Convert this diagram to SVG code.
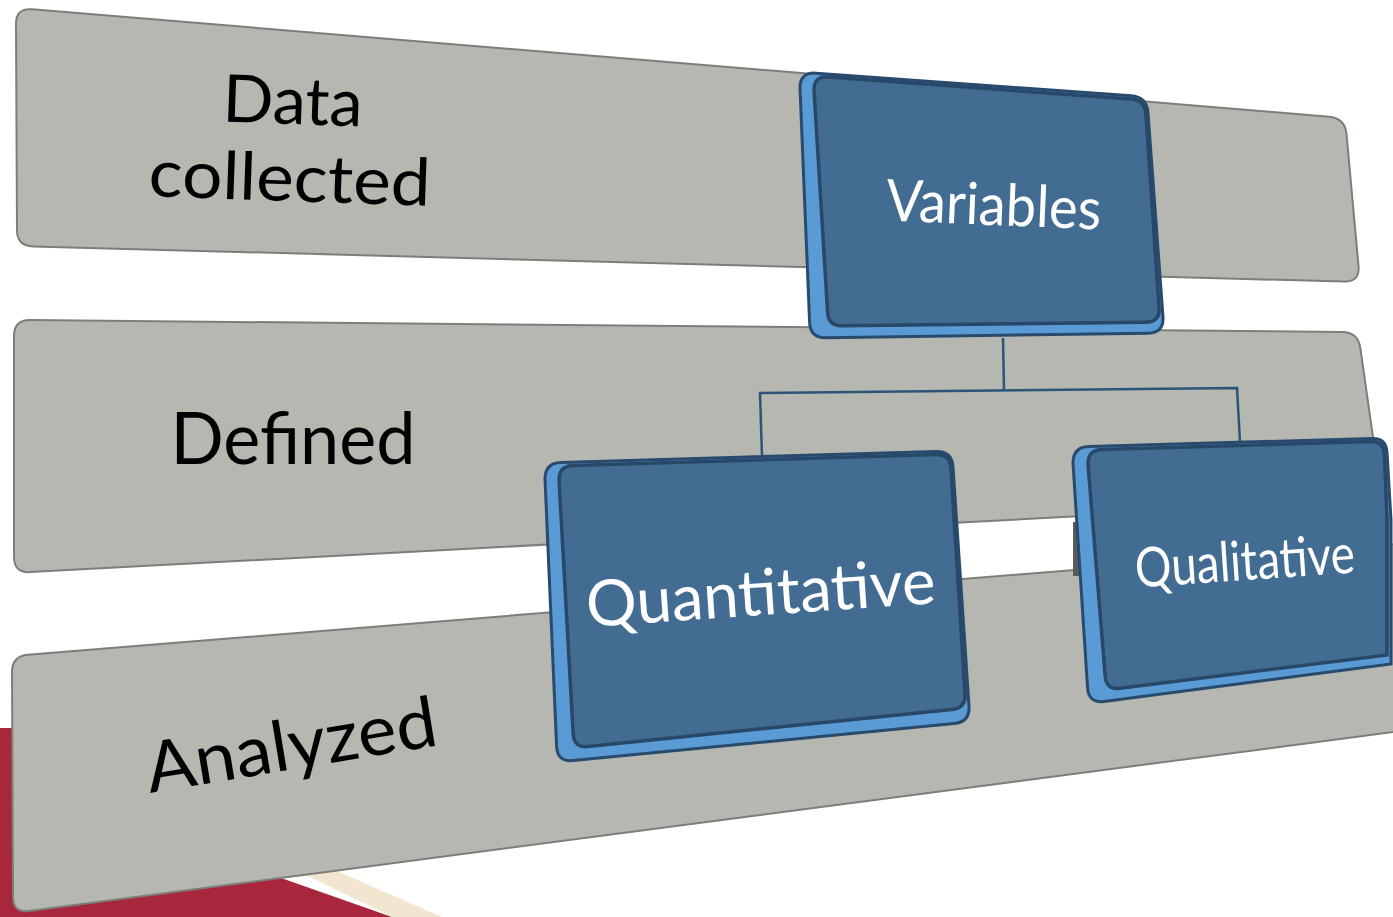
<svg xmlns="http://www.w3.org/2000/svg" width="1393" height="917" viewBox="0 0 1393 917">
<style>
.band{fill:#b5b7b0;stroke:#7c7e79;stroke-width:2}
.lbl{font-family:Lato,"Open Sans","Liberation Sans",sans-serif;fill:#000;text-anchor:middle}
.ext{fill:#5b9bd5;stroke:#284a6c;stroke-width:3}
.face{fill:#436c92;stroke:#274868;stroke-width:3.5}
.btxt{font-family:Lato,"Open Sans","Liberation Sans",sans-serif;fill:#fff;text-anchor:middle}
.conn{fill:none;stroke:#2c5478;stroke-width:2.5}
</style>
<rect width="1393" height="917" fill="#fff"/>
<g id="background">
<polygon points="0,728 200,728 230,860 392,917 0,917" fill="#a8273c"/>
<polygon points="300,872 330,868 442,917 392,917" fill="#f3e6d0"/>
</g>
<g id="band-data-collected">
<path class="band" d="M16,24 Q16,8 32,9.3 L1329,116.7 Q1345,118 1346.5,134 L1358.5,266 Q1360,282 1344,281.6 L33,246.4 Q17,246 17,230 Z"/>
<text class="lbl" font-size="66" transform="rotate(2 292 124)" x="292" y="124" textLength="140" lengthAdjust="spacingAndGlyphs">Data</text>
<text class="lbl" font-size="66" transform="rotate(2 289 201)" x="289" y="201" textLength="282" lengthAdjust="spacingAndGlyphs">collected</text>
</g>
<g id="band-defined">
<path class="band" d="M14,336 Q14,320 30,320.1 L1342,331.9 Q1358,332 1360.3,347.8 L1379.7,484.2 Q1382,500 1366,500.9 L30,572.1 Q14,573 14,557 Z"/>
<text class="lbl" font-size="72" x="293" y="464" textLength="245" lengthAdjust="spacingAndGlyphs">Defined</text>
</g>
<g id="band-analyzed">
<path class="band" d="M12,672 Q12,656 28,654.7 L1420,542 L1420,728.5 L29,910.9 Q13,913 13,897 Z"/>
<text class="lbl" font-size="70" transform="rotate(-9.4 295 769)" x="295" y="769" textLength="294" lengthAdjust="spacingAndGlyphs">Analyzed</text>
</g>
<g id="connectors">
<polyline class="conn" points="1003,338 1004,390"/>
<polyline class="conn" points="762,456 760,393 1237,388 1240,442"/>
</g>
<g id="node-variables">
<path class="ext" d="M800,88 Q800,72 816,73.2 L1131,95.8 Q1147,97 1148,113 L1163,317 Q1164,333 1148,333.2 L826,337.8 Q810,338 809.6,322 Z"/>
<path class="face" d="M814,90 Q814,76 828,77 L1131,99 Q1145,100 1145.9,114 L1159.1,308 Q1160,322 1146,322.2 L842,325.8 Q828,326 827.6,312 Z"/>
<text class="btxt" font-size="58" transform="rotate(2.4 993 225)" x="993" y="225" textLength="215" lengthAdjust="spacingAndGlyphs">Variables</text>
</g>
<g id="node-quantitative">
<path class="ext" d="M545,479 Q545,463 561,462.5 L936,451.5 Q952,451 953,467 L969,706 Q970,722 954,723.5 L573,760.5 Q557,762 556.6,746 Z"/>
<path class="face" d="M559,480 Q559,466 573,465.6 L936,454.4 Q950,454 950.9,468 L965.1,694 Q966,708 952,709.5 L588,746.5 Q574,748 573.2,734 Z"/>
<text class="btxt" font-size="64" transform="rotate(-3.9 762 615)" x="762" y="615" textLength="350" lengthAdjust="spacingAndGlyphs">Quantitative</text>
</g>
<g id="node-qualitative">
<rect x="1073" y="522" width="7" height="54" fill="#5a5c5a"/>
<path class="ext" d="M1073,463 Q1073,447 1089,446.5 L1372,438.5 Q1386,438 1387,452 L1391,520 L1391,664 L1104,701.5 Q1088,703 1087.5,687 Z"/>
<path class="face" d="M1088,464 Q1088,450 1102,449.6 L1371,441.4 Q1384,441 1384.5,455 L1387,520 L1387,655 L1120,688.3 Q1106,690 1105.2,676 Z"/>
<text class="btxt" font-size="55" transform="rotate(-3.9 1246 580)" x="1246" y="580" textLength="220" lengthAdjust="spacingAndGlyphs">Qualitative</text>
</g>
</svg>
